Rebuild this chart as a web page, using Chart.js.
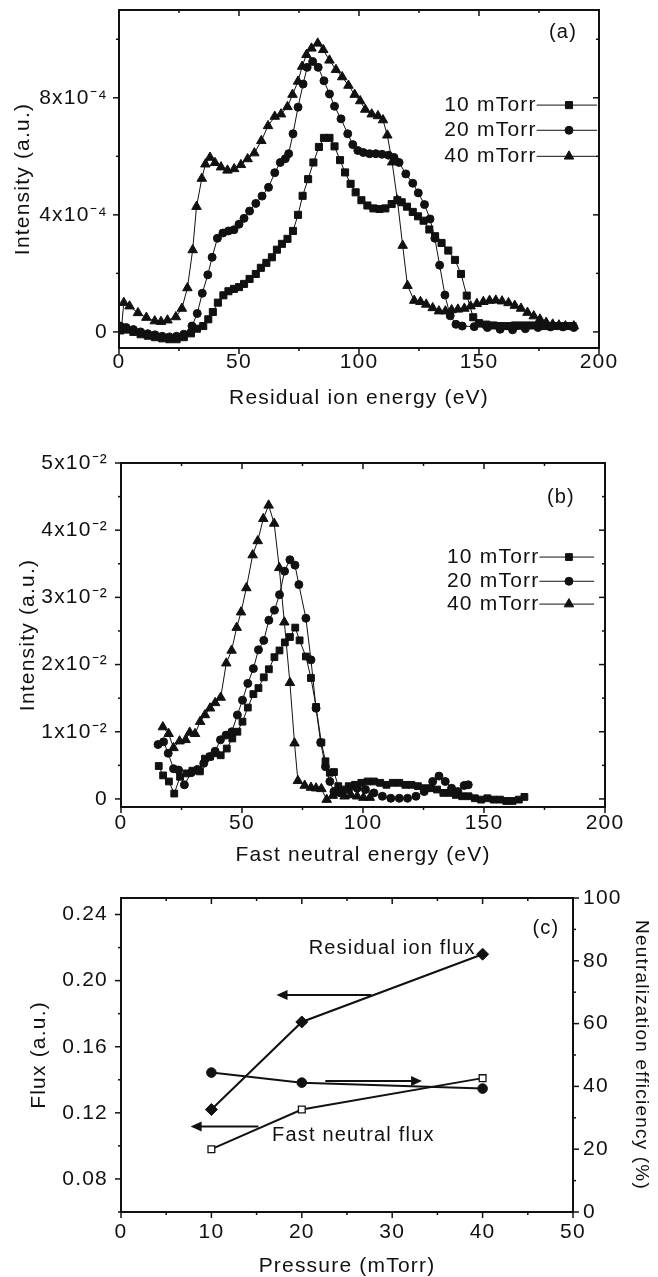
<!DOCTYPE html>
<html lang="en">
<head>
<meta charset="utf-8">
<title>Residual ion and fast neutral energy distributions</title>
<script src="https://cdn.jsdelivr.net/npm/chart.js@4.4.1/dist/chart.umd.min.js"></script>
<style>
  html, body { margin: 0; padding: 0; background: #fff; }
  body { position: relative; width: 658px; height: 1277px; overflow: hidden; }
  canvas { position: absolute; left: 0; }
</style>
</head>
<body>
<canvas id="chart-a" width="658" height="420" style="top:0"></canvas>
<canvas id="chart-b" width="658" height="450" style="top:420px"></canvas>
<canvas id="chart-c" width="658" height="407" style="top:870px"></canvas>
<script>
// (a) residual ion energy distributions, intensity in units of 1e-4
const ionE10 = [0.5, 3, 6, 9, 12, 15, 18, 21, 24, 27, 30, 32.5, 35.1, 37.2, 39.1, 41.2, 43.5, 45.6, 47.9, 50,
  52.1, 54.4, 57, 59.1, 61.4, 63.7, 65.8, 67.9, 70.2, 72.5, 74.6, 76.5, 78.8, 81, 83.3, 85.4, 87.7, 89.8, 92.1,
  94.2, 96.5, 98.6, 101, 103.5, 106, 108.5, 111, 113.6, 116, 117.8, 120, 122.4, 124.6, 126.9, 129.3, 131.7,
  134.4, 137.2, 140, 142.5, 144.9, 147.6, 150, 153, 156, 159, 162, 165, 168, 171, 174, 177, 180, 183, 186, 189];
const ionI10 = [0.05, 0.08, 0.0, -0.08, -0.13, -0.18, -0.22, -0.25, -0.25, -0.18, -0.05, 0.11, 0.2, 0.43, 0.68,
  1.0, 1.25, 1.39, 1.47, 1.53, 1.64, 1.81, 1.98, 2.19, 2.36, 2.55, 2.81, 3.01, 3.18, 3.45, 4.0, 4.65, 5.22, 5.79,
  6.32, 6.63, 6.63, 6.34, 5.87, 5.45, 5.06, 4.77, 4.5, 4.32, 4.22, 4.2, 4.22, 4.37, 4.5, 4.43, 4.28, 4.1, 3.95,
  3.8, 3.5, 3.27, 3.04, 2.78, 2.46, 1.98, 1.24, 0.5, 0.3, 0.25, 0.22, 0.2, 0.2, 0.22, 0.22, 0.22, 0.22, 0.2, 0.2,
  0.2, 0.2, 0.2];
const ionE20 = [0.5, 3, 6, 9, 12, 15, 18, 21, 24, 27, 30.4, 32.6, 34.7, 37, 38.8, 41, 43.3, 45.6, 47.9, 50, 52.1,
  54.4, 57, 59.6, 62.3, 64.9, 67.2, 69.3, 70.7, 72.5, 74.6, 76.7, 78.4, 80.7, 83, 85.4, 87.7, 89.8, 92.5, 95.3,
  97.4, 99.5, 101.8, 104.4, 107, 109.6, 112.3, 114.6, 116.7, 119.5, 122.4, 124.7, 127.3, 129.6, 131.6, 133.6,
  135.8, 138, 140.4, 143, 148, 153.5, 158.8, 164, 169.3, 174.6, 179.8, 185, 189.5];
const ionI20 = [0.2, 0.15, 0.08, 0.0, -0.06, -0.1, -0.15, -0.17, -0.15, -0.08, 0.2, 0.63, 1.32, 1.95, 2.55, 3.2,
  3.38, 3.45, 3.49, 3.68, 3.88, 4.13, 4.39, 4.64, 4.94, 5.44, 5.79, 5.92, 6.09, 6.77, 7.68, 8.47, 9.04, 9.24,
  9.04, 8.58, 8.13, 7.71, 7.28, 6.77, 6.4, 6.2, 6.13, 6.09, 6.09, 6.07, 6.04, 5.96, 5.79, 5.4, 5.08, 4.75, 4.35,
  3.86, 3.2, 2.28, 1.26, 0.55, 0.26, 0.2, 0.18, 0.15, 0.09, 0.07, 0.11, 0.15, 0.17, 0.17, 0.15];
const ionE40 = [1, 2, 4.4, 7.9, 11.4, 14.9, 17.5, 20.2, 23.7, 26.2, 28.5, 30.7, 32.3, 34.5, 36, 37.9, 40, 42.5,
  45.2, 48, 50.8, 53.6, 56.4, 59.3, 62.1, 64.9, 67.5, 70.2, 72.3, 74.6, 76.3, 78.1, 80.2, 82.8, 85.1, 87.7, 90.4,
  93, 95.6, 98.2, 100.5, 102.6, 105.3, 107.9, 110, 111.8, 113.8, 116, 118.2, 120.2, 123, 125.6, 128, 130.7,
  133.3, 136, 138.6, 141.2, 143.9, 146.5, 149.1, 151.8, 154.4, 157, 159.6, 162.3, 164.9, 167.5, 170.2, 172.8,
  175.4, 178, 180.7, 183.3, 186, 189.5];
const ionI40 = [0.1, 1.0, 0.88, 0.65, 0.49, 0.37, 0.35, 0.4, 0.51, 0.8, 1.5, 2.8, 4.28, 5.24, 5.73, 5.96, 5.78,
  5.63, 5.52, 5.57, 5.71, 5.91, 6.11, 6.53, 7.04, 7.36, 7.44, 7.69, 8.11, 8.56, 9.07, 9.47, 9.69, 9.86, 9.64,
  9.28, 8.96, 8.71, 8.42, 8.11, 7.89, 7.6, 7.44, 7.38, 7.24, 6.72, 5.8, 4.5, 2.95, 1.58, 1.07, 1.03, 0.94, 0.82,
  0.71, 0.71, 0.75, 0.77, 0.8, 0.88, 0.96, 1.03, 1.07, 1.08, 1.05, 0.99, 0.9, 0.8, 0.66, 0.54, 0.43, 0.32, 0.26,
  0.23, 0.2, 0.2];

// (b) fast neutral energy distributions, intensity in units of 1e-2
const neuE10 = [15.6, 17.4, 19.8, 22, 24.4, 27.1, 29.5, 32.6, 34.7, 36.8, 38.8, 41.2, 43.7, 46, 48.1, 50.2,
  52.4, 54.7, 56.8, 59, 61.1, 63.4, 65.5, 67.7, 69.8, 72, 73.8, 76.4, 78.5, 80.6, 82.8, 84.5, 86.3, 88, 89.8,
  91.5, 94.1, 96.7, 99.3, 101.9, 104.5, 107.1, 109.7, 112.3, 115, 117.5, 120, 122.7, 125.3, 128, 130.6, 133.2,
  135.8, 138.4, 141, 143.6, 146.2, 148.8, 151.4, 154, 156.6, 159.2, 161.8, 164.4, 166.7];
const neuI10 = [0.49, 0.35, 0.26, 0.08, 0.33, 0.38, 0.42, 0.41, 0.6, 0.63, 0.68, 0.65, 0.75, 0.9, 1.0, 1.15,
  1.36, 1.56, 1.65, 1.81, 1.93, 2.11, 2.21, 2.33, 2.41, 2.55, 2.36, 2.12, 1.8, 1.37, 0.84, 0.56, 0.39, 0.4, 0.19,
  0.14, 0.19, 0.21, 0.24, 0.26, 0.26, 0.24, 0.21, 0.24, 0.24, 0.21, 0.21, 0.19, 0.16, 0.16, 0.14, 0.09, 0.09,
  0.06, 0.04, 0.04, 0.01, -0.01, 0.01, -0.01, -0.01, -0.03, -0.03, -0.01, 0.03];
const neuE20 = [15.3, 17.6, 19.5, 21.7, 23.8, 26.2, 29, 31.6, 34.2, 36.8, 38.9, 41.1, 43.4, 45.8, 48.1, 50.2,
  52.4, 54.7, 56.8, 59, 61.1, 63.4, 65.5, 67.6, 69.8, 71.9, 73.5, 76.4, 78.5, 80.6, 82.5, 84.5, 86.3, 88, 90.6,
  94, 97.6, 101, 104.5, 108, 111.5, 115, 118.4, 121.9, 125.3, 128.8, 131.4, 134, 136.6, 139.2, 141.8, 143.5];
const neuI20 = [0.81, 0.85, 0.68, 0.45, 0.43, 0.21, 0.39, 0.44, 0.53, 0.63, 0.71, 0.88, 0.95, 1.0, 1.25, 1.47,
  1.72, 1.94, 2.22, 2.36, 2.66, 2.81, 3.04, 3.39, 3.56, 3.48, 3.19, 2.69, 2.07, 1.35, 0.84, 0.48, 0.26, 0.11,
  0.09, 0.14, 0.16, 0.14, 0.09, 0.04, 0.01, 0.01, 0.01, 0.04, 0.11, 0.26, 0.34, 0.26, 0.16, 0.11, 0.2, 0.21];
const neuE40 = [17.3, 19.7, 21.7, 24.2, 26.7, 28.4, 30.6, 32.7, 34.7, 36.8, 38.9, 41.2, 43.5, 45.7, 47.8, 49.6,
  51.8, 54.4, 56.5, 58.8, 61, 63.3, 65.4, 67.5, 69.8, 71.7, 73.1, 75.9, 78.5, 80.6, 82.8, 85, 87.5, 89.8, 92.4,
  95, 97.6, 100.2, 102.8];
const neuI40 = [1.07, 0.97, 0.76, 0.86, 0.88, 0.99, 0.97, 1.15, 1.25, 1.35, 1.43, 1.51, 2.02, 2.21, 2.55, 2.78,
  3.14, 3.63, 3.84, 4.17, 4.37, 4.1, 3.44, 2.63, 1.73, 0.83, 0.27, 0.2, 0.17, 0.16, 0.15, -0.01, 0.05, 0.09,
  0.04, 0.06, 0.04, 0.02, 0.02];

// (c) fluxes and neutralization efficiency vs pressure
const pressure = [10, 20, 40];
const ionFlux = [0.122, 0.175, 0.216];
const neutralFlux = [0.098, 0.122, 0.141];
const efficiency = [44.4, 41.2, 39.3];

const seriesLabels = ['10 mTorr', '20 mTorr', '40 mTorr'];

const INK = '#111';
const FONT = "'Liberation Sans', Arial, sans-serif";
const SPACING = '1.2px';

Chart.defaults.font.family = FONT;
Chart.defaults.font.size = 21;
Chart.defaults.color = INK;

function pairs(xs, ys) {
  return xs.map((x, i) => ({x: x, y: ys[i]}));
}

// letter spacing for all text on the canvas (the scanned figure is set wide)
const spacingPlugin = {
  id: 'spacing',
  beforeDraw(chart) { chart.ctx.letterSpacing = SPACING; }
};

// box round the plot with tick marks, outward on bottom/left, inward on top/right
const framePlugin = {
  id: 'frame',
  afterDraw(chart, args, o) {
    const {ctx, chartArea: a} = chart;
    ctx.save();
    ctx.strokeStyle = INK;
    ctx.lineWidth = 1.5;
    const seg = (x0, y0, x1, y1) => {
      ctx.beginPath(); ctx.moveTo(x0, y0); ctx.lineTo(x1, y1); ctx.stroke();
    };
    Object.values(chart.scales).forEach(s => {
      s.ticks.forEach(t => {
        const p = s.getPixelForValue(t.value);
        const len = t.label === '' ? o.minor : o.major;
        if (s.isHorizontal()) {
          if (p < a.left - 1 || p > a.right + 1) return;
          seg(p, a.bottom, p, a.bottom + len);
          if (o.mirrorX) seg(p, a.top, p, a.top + len);
        } else {
          if (p < a.top - 1 || p > a.bottom + 1) return;
          if (s.position === 'left') {
            seg(a.left - len, p, a.left, p);
            if (o.mirrorY) seg(a.right - len, p, a.right, p);
          } else {
            seg(a.right, p, a.right + len, p);
          }
        }
      });
    });
    ctx.lineWidth = 2;
    ctx.strokeRect(a.left, a.top, a.width, a.height);
    ctx.restore();
  }
};

// legend written as  "10 mTorr—■—"  inside the plot
const keyPlugin = {
  id: 'seriesKey',
  afterDatasetsDraw(chart, args, o) {
    if (!o.rows) return;
    const {ctx, scales: {x, y}} = chart;
    ctx.save();
    ctx.letterSpacing = SPACING;
    ctx.font = '21px ' + FONT;
    ctx.fillStyle = INK;
    ctx.strokeStyle = INK;
    ctx.textBaseline = 'middle';
    chart.data.datasets.forEach((ds, i) => {
      const px = x.getPixelForValue(o.x);
      const py = y.getPixelForValue(o.rows[i]);
      ctx.fillText(ds.label, px, py);
      const x0 = px + ctx.measureText(ds.label).width;
      ctx.lineWidth = 1;
      ctx.beginPath();
      ctx.moveTo(x0, py);
      ctx.lineTo(x.getPixelForValue(o.lineEnd), py);
      ctx.stroke();
      Chart.helpers.drawPoint(ctx, {
        pointStyle: ds.pointStyle, radius: ds.pointRadius, borderWidth: 1, rotation: 0
      }, x.getPixelForValue(o.mark), py);
    });
    ctx.restore();
  }
};

// free text and arrows placed in data coordinates
const notesPlugin = {
  id: 'notes',
  afterDatasetsDraw(chart, args, o) {
    const {ctx, scales} = chart;
    ctx.save();
    ctx.letterSpacing = SPACING;
    ctx.font = '20px ' + FONT;
    ctx.fillStyle = INK;
    ctx.strokeStyle = INK;
    ctx.textBaseline = 'middle';
    (o.texts || []).forEach(t => {
      const sy = scales[t.axis || 'y'];
      ctx.textAlign = t.align || 'center';
      ctx.fillText(t.text, scales.x.getPixelForValue(t.x), sy.getPixelForValue(t.y));
    });
    (o.arrows || []).forEach(ar => {
      const sy = scales[ar.axis || 'y'];
      const x0 = scales.x.getPixelForValue(ar.from), x1 = scales.x.getPixelForValue(ar.to);
      const yy = sy.getPixelForValue(ar.y);
      const dir = Math.sign(x1 - x0);
      ctx.lineWidth = 2;
      ctx.beginPath(); ctx.moveTo(x0, yy); ctx.lineTo(x1 - dir * 8, yy); ctx.stroke();
      ctx.beginPath();
      ctx.moveTo(x1, yy);
      ctx.lineTo(x1 - dir * 11, yy - 5);
      ctx.lineTo(x1 - dir * 11, yy + 5);
      ctx.closePath();
      ctx.fill();
    });
    ctx.restore();
  }
};

function lineSet(label, data, style, radius, extra) {
  return Object.assign({
    label: label,
    data: data,
    borderColor: INK,
    borderWidth: 1,
    pointStyle: style,
    pointRadius: radius,
    pointBackgroundColor: INK,
    pointBorderColor: INK,
    pointBorderWidth: 1,
    tension: 0,
    fill: false
  }, extra || {});
}

function bottomAxis(max, step, major, title, height, labelPad, titlePad) {
  return {
    type: 'linear', min: 0, max: max,
    grid: {display: false, drawTicks: false}, border: {display: false},
    ticks: {stepSize: step, autoSkip: false, maxRotation: 0, padding: labelPad,
      callback: v => (v % major === 0 ? String(v) : '')},
    title: {display: true, text: title, padding: {top: 0, bottom: titlePad}},
    afterFit: s => { s.height = height; s.paddingLeft = 0; s.paddingRight = 0; }
  };
}

function sideAxis(pos, min, max, step, fmt, title, width, labelPad, titlePad, titleSize) {
  return {
    type: 'linear', position: pos, min: min, max: max,
    grid: {display: false, drawTicks: false}, border: {display: false},
    ticks: {stepSize: step, includeBounds: false, autoSkip: false, padding: labelPad, callback: fmt},
    title: {display: true, text: title, padding: {top: titlePad, bottom: 0},
      font: {size: titleSize || 21}},
    afterFit: s => { s.width = width; s.paddingTop = 0; s.paddingBottom = 0; }
  };
}

const baseOptions = {
  responsive: false,
  animation: false,
  plugins: {legend: {display: false}, tooltip: {enabled: false}}
};

// ---- panel (a) ----
new Chart('chart-a', {
  type: 'line',
  data: {
    datasets: [
      lineSet(seriesLabels[0], pairs(ionE10, ionI10), 'rect', 5),
      lineSet(seriesLabels[1], pairs(ionE20, ionI20), 'circle', 4),
      lineSet(seriesLabels[2], pairs(ionE40, ionI40), 'triangle', 5.5)
    ]
  },
  options: Object.assign({}, baseOptions, {
    layout: {padding: {top: 10, right: 59, left: 0, bottom: 0}},
    scales: {
      x: bottomAxis(200, 25, 50, 'Residual ion energy (eV)', 72, 1.5, 9.5),
      y: sideAxis('left', -0.55, 11.0, 2, v => {
        const r = Math.round(v);
        if (r % 4 !== 0) return '';
        return r === 0 ? '0' : r + 'x10\u207B\u2074';
      }, 'Intensity (a.u.)', 119, 11, 10.5)
    },
    plugins: Object.assign({}, baseOptions.plugins, {
      frame: {mirrorX: true, mirrorY: true, major: 6, minor: 3},
      seriesKey: {x: 135.5, rows: [7.75, 6.89, 6.0], mark: 187.5, lineEnd: 199.2},
      notes: {texts: [{text: '(a)', x: 185, y: 10.24}]}
    })
  }),
  plugins: [spacingPlugin, framePlugin, keyPlugin, notesPlugin]
});

// ---- panel (b) ----
new Chart('chart-b', {
  type: 'line',
  data: {
    datasets: [
      lineSet(seriesLabels[0], pairs(neuE10, neuI10), 'rect', 4.8),
      lineSet(seriesLabels[1], pairs(neuE20, neuI20), 'circle', 4),
      lineSet(seriesLabels[2], pairs(neuE40, neuI40), 'triangle', 5.5)
    ]
  },
  options: Object.assign({}, baseOptions, {
    layout: {padding: {top: 43, right: 53, left: 0, bottom: 0}},
    scales: {
      x: bottomAxis(200, 25, 50, 'Fast neutral energy (eV)', 63, 3.5, 2.5),
      y: sideAxis('left', -0.12, 5, 0.5, v => {
        if (Math.abs(v - Math.round(v)) > 1e-6) return '';
        const r = Math.round(v);
        return r === 0 ? '0' : r + 'x10\u207B\u00B2';
      }, 'Intensity (a.u.)', 121, 13, 16)
    },
    plugins: Object.assign({}, baseOptions.plugins, {
      frame: {mirrorX: true, mirrorY: true, major: 6, minor: 3},
      seriesKey: {x: 134.7, rows: [3.6, 3.24, 2.9], mark: 185.1, lineEnd: 195.5},
      notes: {texts: [{text: '(b)', x: 181.8, y: 4.48}]}
    })
  }),
  plugins: [spacingPlugin, framePlugin, keyPlugin, notesPlugin]
});

// ---- panel (c) ----
new Chart('chart-c', {
  type: 'line',
  data: {
    datasets: [
      lineSet('Residual ion flux', pairs(pressure, ionFlux), 'rectRot', 6,
        {borderWidth: 2, yAxisID: 'y'}),
      lineSet('Fast neutral flux', pairs(pressure, neutralFlux), 'rect', 4.8,
        {borderWidth: 2, yAxisID: 'y', pointBackgroundColor: '#fff', pointBorderWidth: 1.3}),
      lineSet('Neutralization efficiency', pairs(pressure, efficiency), 'circle', 4.8,
        {borderWidth: 2, yAxisID: 'y2'})
    ]
  },
  options: Object.assign({}, baseOptions, {
    layout: {padding: {top: 28, right: 0, left: 0, bottom: 0}},
    scales: {
      x: bottomAxis(50, 5, 10, 'Pressure (mTorr)', 65, 8, -2),
      y: sideAxis('left', 0.06, 0.25, 0.02, v => {
        const r = Math.round(v * 100);
        return r % 4 === 0 ? (r / 100).toFixed(2) : '';
      }, 'Flux (a.u.)', 121, 13, 27),
      y2: sideAxis('right', 0, 100, 10, v => (v % 20 === 0 ? String(v) : ''),
        'Neutralization efficiency (%)', 85, 10, 5.5, 19)
    },
    plugins: Object.assign({}, baseOptions.plugins, {
      frame: {mirrorX: true, mirrorY: false, major: 6, minor: 3},
      notes: {
        texts: [
          {text: '(c)', x: 47.0, y: 0.2316},
          {text: 'Residual ion flux', x: 30.0, y: 0.2195},
          {text: 'Fast neutral flux', x: 25.7, y: 0.1066}
        ],
        arrows: [
          {from: 27.7, to: 17.2, y: 0.1913},
          {from: 22.6, to: 33.3, y: 41.7, axis: 'y2'},
          {from: 15.2, to: 7.7, y: 0.1117}
        ]
      }
    })
  }),
  plugins: [spacingPlugin, framePlugin, notesPlugin]
});
</script>
</body>
</html>
